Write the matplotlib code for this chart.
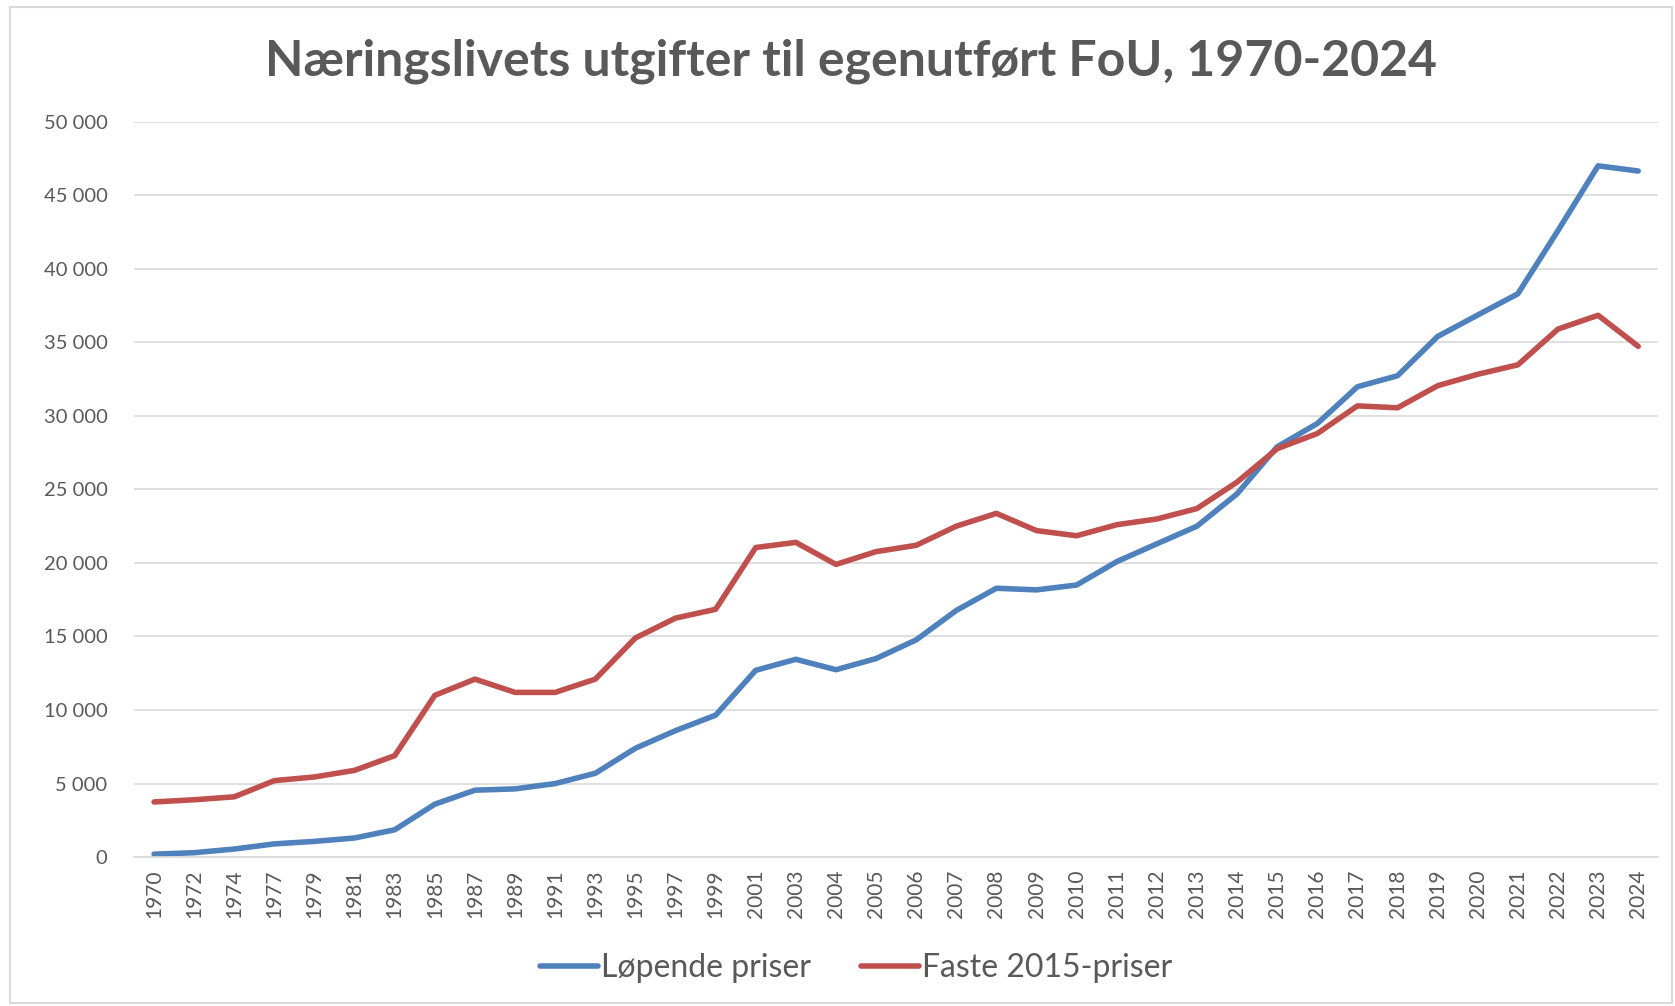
import numpy as np
import matplotlib.pyplot as plt
from matplotlib.patches import Rectangle
from matplotlib.ticker import FuncFormatter

plt.rcParams['font.family'] = ['Lato', 'DejaVu Sans']

# data (mill. kr), lest av figuren
aar = ['1970', '1972', '1974', '1977', '1979', '1981', '1983', '1985', '1987',
       '1989', '1991', '1993', '1995', '1997', '1999', '2001', '2003', '2004',
       '2005', '2006', '2007', '2008', '2009', '2010', '2011', '2012', '2013',
       '2014', '2015', '2016', '2017', '2018', '2019', '2020', '2021', '2022',
       '2023', '2024']
lopende = [200, 300, 550, 900, 1070, 1300, 1860, 3600, 4550, 4640, 5000, 5700,
           7400, 8600, 9650, 12700, 13450, 12740, 13500, 14770, 16770, 18280,
           18170, 18500, 20090, 21300, 22500, 24700, 27900, 29480, 31980,
           32730, 35400, 36860, 38300, 42600, 47000, 46650]
faste = [3750, 3900, 4100, 5200, 5450, 5900, 6900, 11000, 12100, 11200, 11200,
         12100, 14900, 16250, 16850, 21050, 21400, 19900, 20770, 21200, 22500,
         23370, 22200, 21850, 22600, 22990, 23700, 25500, 27770, 28800, 30680,
         30550, 32050, 32830, 33470, 35900, 36840, 34730]

blaa = '#4F81BD'
rod = '#C0504D'
tekst = '#595959'

fig = plt.figure(figsize=(16.75, 10.06), dpi=100)
ax = fig.add_axes([0.080, 0.148, 0.910, 0.731])

x = np.arange(len(aar))
ax.plot(x, lopende, color=blaa, lw=4, solid_capstyle='round', label='Løpende priser')
ax.plot(x, faste, color=rod, lw=4, solid_capstyle='round', label='Faste 2015-priser')

ax.set_xlim(-0.5, len(aar) - 0.5)
ax.set_ylim(0, 50000)
ax.set_yticks(np.arange(0, 50001, 5000))
ax.yaxis.set_major_formatter(FuncFormatter(lambda v, p: f'{int(v):,}'.replace(',', ' ')))
ax.set_xticks(x)
ax.set_xticklabels(aar, rotation=90)
ax.grid(axis='y', color='#D9D9D9', lw=1.2)
ax.set_axisbelow(True)
for s in ['top', 'right', 'left']:
    ax.spines[s].set_visible(False)
ax.spines['bottom'].set_color('#D9D9D9')
ax.spines['bottom'].set_linewidth(1.2)
ax.tick_params(axis='y', length=0, colors=tekst, labelsize=14.5, pad=19)
ax.tick_params(axis='x', length=0, colors=tekst, labelsize=15, pad=9)

fig.text(0.508, 0.939, 'Næringslivets utgifter til egenutført FoU, 1970-2024',
         ha='center', va='center', fontsize=36, fontweight='bold', color=tekst)

leg = fig.legend(loc='center', bbox_to_anchor=(0.511, 0.038), ncol=2, frameon=False,
                 fontsize=23, handlelength=1.83, handletextpad=0.08, columnspacing=1.57)
for t in leg.get_texts():
    t.set_color(tekst)

# ramme rundt diagrammet
fig.patches.append(Rectangle((10 / 1675, 3 / 1006), 1662 / 1675, 996 / 1006,
                             transform=fig.transFigure, fill=False,
                             edgecolor='#D9D9D9', lw=1.5))

fig.savefig('out.png', dpi=100)
